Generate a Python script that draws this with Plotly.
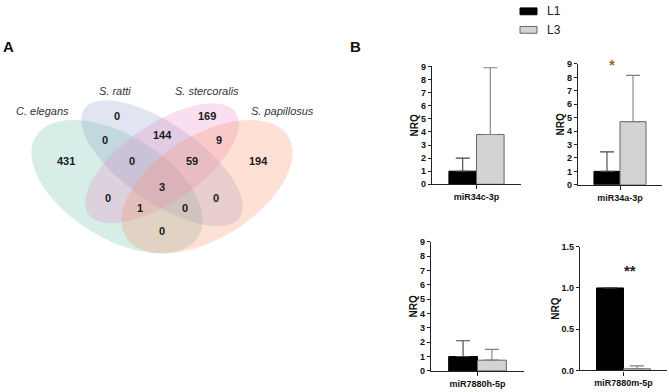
import numpy as np
import plotly.graph_objects as go

# ---------------- data ----------------
venn_sets = ["C. elegans", "S. ratti", "S. stercoralis", "S. papillosus"]
venn_regions = ["ratti", "ratti&sterc", "sterc", "eleg&ratti", "eleg&ratti&sterc",
                "all", "ratti&sterc&papil", "sterc&papil", "eleg", "eleg&sterc",
                "eleg&sterc&papil", "eleg&papil", "eleg&ratti&papil", "ratti&papil", "papil"]
venn_counts = [0, 144, 169, 0, 0, 3, 59, 9, 431, 0, 1, 0, 0, 0, 194]

genes = ["miR34c-3p", "miR34a-3p", "miR7880h-5p", "miR7880m-5p"]
stages = ["L1", "L3"]
nrq_L1 = [1.0, 1.0, 1.0, 1.0]
nrq_L3 = [3.8, 4.7, 0.75, 0.02]
err_L1 = [1.0, 1.45, 1.1, 0.0]
err_L3 = [5.1, 3.45, 0.75, 0.035]
significance = ["", "*", "", "**"]
y_max = [9, 9, 9, 1.5]
y_dtick = [1, 1, 1, 0.5]

# ---------------- styling / geometry ----------------
W, H = 669, 392
venn_colors = ["rgba(102,194,165,0.27)", "rgba(141,160,203,0.27)",
               "rgba(231,138,195,0.27)", "rgba(252,141,98,0.27)"]
# ellipse geometry (cx, cy, a, b, rotation deg) in unit diagram coords
ellipses = [(0.35, 0.47, 0.35, 0.20, 135), (0.50, 0.57, 0.35, 0.15, 135),
            (0.50, 0.57, 0.33, 0.15, 45), (0.65, 0.47, 0.35, 0.20, 45)]
region_pos = [(0.35, 0.77), (0.5, 0.69), (0.65, 0.77), (0.31, 0.67), (0.40, 0.58),
              (0.5, 0.47), (0.60, 0.58), (0.69, 0.67), (0.18, 0.58), (0.32, 0.42),
              (0.425, 0.38), (0.5, 0.28), (0.575, 0.38), (0.68, 0.42), (0.82, 0.58)]
label_pos = [(0.10, 0.7925), (0.343, 0.88), (0.65, 0.88), (0.903, 0.7925)]

bar_colors = ["#000000", "#d3d3d3"]
bar_lines = ["#000000", "#666666"]
err_colors = ["#444444", "#808080"]

def px_x(p):
    return p / W

def px_y(p):
    return 1 - p / H

# panel domains (pixels): x_left, x_right, y_top(at ymax), y_bottom(at 0)
panels = [(432, 521, 63.0, 184.0), (578, 662, 60.5, 184.5),
          (431, 524, 243.0, 375.5), (580, 667, 248.0, 375.0)]
# significance marks positions in pixels
sig_pos = [None, (612, 61), None, (630, 272)]

fig = go.Figure()

for i, g in enumerate(genes):
    ax = "" if i == 0 else str(i + 1)
    for s, (vals, errs) in enumerate([(nrq_L1, err_L1), (nrq_L3, err_L3)]):
        fig.add_trace(go.Bar(
            x=[g], y=[vals[i]], name=stages[s], showlegend=False,
            xaxis="x" + ax, yaxis="y" + ax,
            marker=dict(color=bar_colors[s], line=dict(color=bar_lines[s], width=1)),
            error_y=dict(type="data", symmetric=False, array=[errs[i]], arrayminus=[0],
                         color=err_colors[s], thickness=1.1, width=7),
        ))
    xl, xr, yt, yb = panels[i]
    fig.layout["xaxis" + ax] = dict(
        domain=[px_x(xl), px_x(xr)], anchor="y" + ax, type="category",
        showline=True, linecolor="#222", linewidth=1.3, ticks="outside", ticklen=4,
        tickcolor="#222", tickfont=dict(family="Liberation Sans", size=9, color="#111", weight="bold"),
        showgrid=False, zeroline=False, fixedrange=True)
    fig.layout["yaxis" + ax] = dict(
        domain=[px_y(yb), px_y(yt)], anchor="x" + ax, range=[0, y_max[i]], dtick=y_dtick[i],
        tickformat=".1f" if y_dtick[i] < 1 else "d",
        showline=True, linecolor="#222", linewidth=1.3, ticks="outside", ticklen=3,
        tickcolor="#222", tickfont=dict(family="Liberation Sans", size=9, color="#111", weight="bold"),
        title=dict(text="NRQ", standoff=0,
                   font=dict(family="Liberation Sans", size=10, color="#111", weight="bold")),
        showgrid=False, zeroline=False, fixedrange=True)
    if significance[i]:
        sx, sy = sig_pos[i]
        fig.add_annotation(
            xref="paper", yref="paper", x=px_x(sx), y=px_y(sy),
            xanchor="center", yanchor="middle",
            text=significance[i], showarrow=False,
            font=dict(family="Liberation Sans", size=15, weight="bold",
                      color="#9a6b1f" if i == 1 else "#222"))

# Venn axis
fig.layout["xaxis5"] = dict(domain=[12 / W, 312 / W], range=[0, 1], visible=False,
                            anchor="y5", fixedrange=True)
fig.layout["yaxis5"] = dict(domain=[px_y(299.2), px_y(59.2)], range=[0, 1], visible=False,
                            anchor="x5", fixedrange=True)
fig.add_trace(go.Scatter(x=[0], y=[0], xaxis="x5", yaxis="y5", mode="markers",
                         marker=dict(opacity=0), showlegend=False, hoverinfo="skip"))

t = np.linspace(0, 2 * np.pi, 160)
for (cx, cy, a, b, rot), col in zip(ellipses, venn_colors):
    th = np.deg2rad(rot)
    xs = cx + a * np.cos(t) * np.cos(th) - b * np.sin(t) * np.sin(th)
    ys = cy + a * np.cos(t) * np.sin(th) + b * np.sin(t) * np.cos(th)
    path = "M " + " L ".join(f"{x:.4f},{y:.4f}" for x, y in zip(xs, ys)) + " Z"
    fig.add_shape(type="path", path=path, xref="x5", yref="y5", fillcolor=col,
                  line=dict(width=0), layer="below")

for (ux, uy), c in zip(region_pos, venn_counts):
    fig.add_annotation(xref="x5", yref="y5", x=ux, y=uy, text=str(c), showarrow=False,
                       xanchor="center", yanchor="middle",
                       font=dict(family="Liberation Sans", size=11, color="#1a1a1a", weight="bold"))
for (ux, uy), name in zip(label_pos, venn_sets):
    fig.add_annotation(xref="x5", yref="y5", x=ux, y=uy, text=f"<i>{name}</i>", showarrow=False,
                       xanchor="center", yanchor="middle",
                       font=dict(family="Liberation Sans", size=11, color="#333"))

# panel letters
fig.add_annotation(xref="paper", yref="paper", x=px_x(8), y=px_y(43), text="<b>A</b>",
                   xanchor="center", yanchor="middle",
                   showarrow=False, font=dict(family="Liberation Sans", size=15, color="#111"))
fig.add_annotation(xref="paper", yref="paper", x=px_x(355), y=px_y(43), text="<b>B</b>",
                   xanchor="center", yanchor="middle",
                   showarrow=False, font=dict(family="Liberation Sans", size=15, color="#111"))

# legend (manual)
leg_y = [6.5, 25.5]
for s in range(2):
    fig.add_shape(type="rect", xref="paper", yref="paper",
                  x0=px_x(520), x1=px_x(537), y0=px_y(leg_y[s] + 3.5), y1=px_y(leg_y[s] - 3.5),
                  fillcolor=bar_colors[s], line=dict(color=bar_lines[s], width=1))
    fig.add_annotation(xref="paper", yref="paper", x=px_x(545), y=px_y(leg_y[s]),
                       xanchor="left", yanchor="middle", text=stages[s], showarrow=False,
                       font=dict(family="Liberation Sans", size=12, color="#222"))

fig.update_layout(width=W, height=H, margin=dict(l=0, r=0, t=0, b=0),
                  paper_bgcolor="white", plot_bgcolor="rgba(0,0,0,0)",
                  barmode="group", bargap=0.38, bargroupgap=0, showlegend=False)

fig.write_html("out.html", config={"displayModeBar": False},
               post_script="document.body.style.margin='0';document.body.style.overflow='hidden';")
